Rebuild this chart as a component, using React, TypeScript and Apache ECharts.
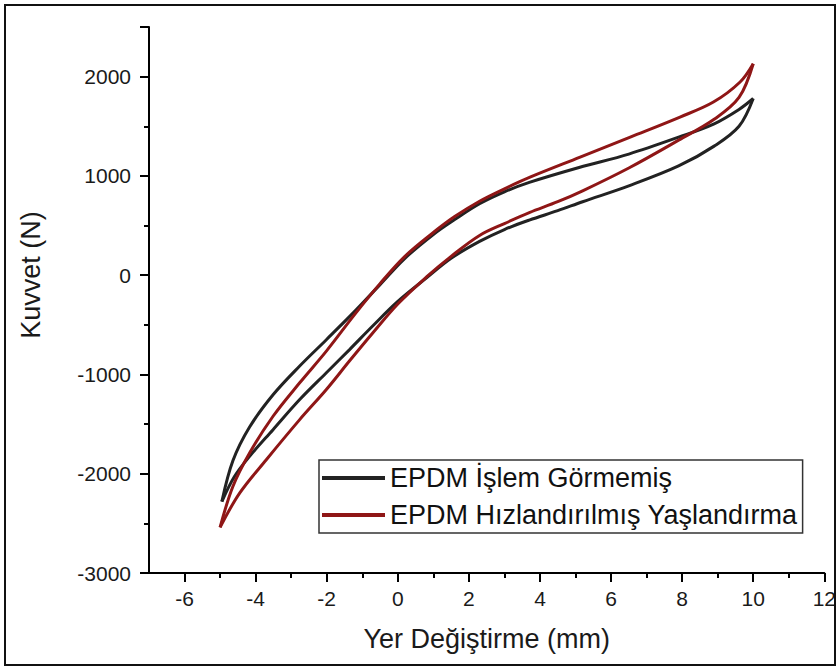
import React, { useEffect, useRef } from "react";
import * as echarts from "echarts";

const seriesNames = ["EPDM İşlem Görmemiş", "EPDM Hızlandırılmış Yaşlandırma"];
const seriesColors = ["#222222", "#8f1616"];

const xMajorTicks = [-6, -4, -2, 0, 2, 4, 6, 8, 10, 12];
const xMinorTicks = [-5, -3, -1, 1, 3, 5, 7, 9, 11];
const yMajorTicks = [-3000, -2000, -1000, 0, 1000, 2000];

// EPDM İşlem Görmemiş – loading branch (x: mm, y: N)
const untreatedLoading: [number, number][] = [
  [-4.95, -2280], [-4.6, -2030], [-4.17, -1825], [-3.51, -1556], [-2.76, -1253],
  [-2.01, -983], [-1.35, -747], [-0.7, -510], [0.0, -265], [0.8, -30],
  [1.5, 170], [2.3, 340], [3.0, 460], [3.7, 555], [4.5, 650],
  [5.2, 740], [6.5, 900], [7.9, 1100], [8.9, 1300], [9.6, 1500], [10.0, 1780],
];
// EPDM İşlem Görmemiş – unloading branch
const untreatedUnloading: [number, number][] = [
  [10.0, 1780], [9.6, 1670], [8.9, 1525], [7.9, 1390], [6.5, 1220],
  [5.1, 1085], [3.7, 935], [3.0, 840], [2.3, 720], [1.6, 560],
  [1.0, 410], [0.2, 170], [-0.5, -95], [-1.2, -360], [-2.01, -650],
  [-2.76, -915], [-3.51, -1205], [-4.17, -1530], [-4.64, -1870], [-4.95, -2280],
];
// EPDM Hızlandırılmış Yaşlandırma – loading branch
const agedLoading: [number, number][] = [
  [-5.0, -2540], [-4.45, -2195], [-3.7, -1859], [-2.76, -1455], [-2.01, -1152],
  [-1.35, -860], [-0.7, -580], [0.0, -290], [0.8, -20], [1.5, 190],
  [2.3, 400], [3.0, 520], [3.7, 630], [4.5, 740], [5.2, 850],
  [6.5, 1080], [7.9, 1360], [8.9, 1570], [9.6, 1790], [10.0, 2130],
];
// EPDM Hızlandırılmış Yaşlandırma – unloading branch
const agedUnloading: [number, number][] = [
  [10.0, 2130], [9.63, 1946], [8.88, 1744], [7.94, 1593], [6.54, 1391],
  [5.13, 1189], [3.72, 987], [3.0, 870], [2.3, 745], [1.6, 590],
  [1.0, 430], [0.2, 190], [-0.5, -85], [-1.2, -390], [-2.01, -765],
  [-2.76, -1084], [-3.51, -1421], [-4.17, -1791], [-4.64, -2128], [-5.0, -2540],
];

const FONT = "'Liberation Sans', Arial, sans-serif";
const TEXT_COLOR = "#1a1a1a";

export default function App() {
  const ref = useRef<HTMLDivElement>(null);

  useEffect(() => {
    document.body.style.margin = "0";
    if (!ref.current) return;
    const chart = echarts.init(ref.current, undefined, { renderer: "svg" });

    const lineSeries = (name: string, color: string, data: [number, number][]) => ({
      type: "line",
      name,
      data,
      xAxisIndex: 0,
      yAxisIndex: 0,
      symbol: "none",
      showSymbol: false,
      smooth: 0.35,
      lineStyle: { color, width: 3 },
      itemStyle: { color },
      z: 3,
    });

    const option: any = {
      animation: false,
      backgroundColor: "#ffffff",
      textStyle: { fontFamily: FONT },
      grid: { left: 149, right: 14, top: 27, bottom: 96, containLabel: false },
      xAxis: [
        {
          type: "value",
          position: "bottom",
          min: -7,
          max: 12,
          name: "Yer Değiştirme (mm)",
          nameLocation: "middle",
          nameGap: 52,
          nameTextStyle: { fontSize: 27, color: TEXT_COLOR, fontFamily: FONT },
          axisLine: { show: true, onZero: false, lineStyle: { color: "#000", width: 2 } },
          axisTick: { show: true, customValues: xMajorTicks, length: 9, lineStyle: { color: "#000", width: 2 } },
          axisLabel: { customValues: xMajorTicks, margin: 15, fontSize: 21, color: TEXT_COLOR, fontFamily: FONT },
          splitLine: { show: false },
        },
        {
          type: "value",
          position: "bottom",
          min: -7,
          max: 12,
          axisLine: { show: false, onZero: false },
          axisTick: { show: true, customValues: xMinorTicks, length: 5, lineStyle: { color: "#000", width: 2 } },
          axisLabel: { show: false },
          splitLine: { show: false },
        },
      ],
      yAxis: {
        type: "value",
        min: -3000,
        max: 2500,
        interval: 1000,
        name: "Kuvvet (N)",
        nameLocation: "middle",
        nameGap: 105,
        nameTextStyle: { fontSize: 27, color: TEXT_COLOR, fontFamily: FONT, padding: [0, 0, 0, 50] },
        axisLine: { show: true, onZero: false, lineStyle: { color: "#000", width: 2 } },
        axisTick: { show: true, length: 9, lineStyle: { color: "#000", width: 2 } },
        minorTick: { show: true, splitNumber: 2, length: 5, lineStyle: { color: "#000", width: 2 } },
        axisLabel: {
          customValues: yMajorTicks,
          margin: 18,
          fontSize: 21,
          color: TEXT_COLOR,
          fontFamily: FONT,
          formatter: (v: number) => String(v),
        },
        splitLine: { show: false },
        minorSplitLine: { show: false },
      },
      legend: {
        orient: "vertical",
        left: 319,
        top: 460,
        data: seriesNames,
        icon: "rect",
        itemWidth: 63,
        itemHeight: 4,
        itemGap: 7,
        padding: [3, 5, 3, 3],
        borderColor: "#333",
        borderWidth: 1.5,
        backgroundColor: "#fff",
        textStyle: { fontSize: 27, color: "#111", lineHeight: 30, fontFamily: FONT },
        selectedMode: false,
      },
      graphic: [
        {
          type: "rect",
          shape: { x: 5, y: 5, width: 830, height: 660 },
          style: { fill: "none", stroke: "#111", lineWidth: 2 },
          silent: true,
          z: 100,
        },
      ],
      series: [
        lineSeries(seriesNames[0], seriesColors[0], untreatedLoading),
        lineSeries(seriesNames[0], seriesColors[0], untreatedUnloading),
        lineSeries(seriesNames[1], seriesColors[1], agedLoading),
        lineSeries(seriesNames[1], seriesColors[1], agedUnloading),
      ],
    };

    chart.setOption(option);
    return () => chart.dispose();
  }, []);

  return (
    <div
      ref={ref}
      style={{ position: "fixed", left: 0, top: 0, width: 839, height: 669, background: "#fff" }}
    />
  );
}
